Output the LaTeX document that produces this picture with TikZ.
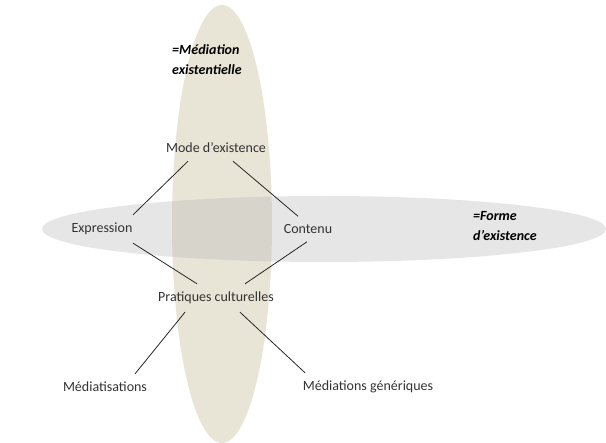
\documentclass[tikz,border=0pt]{standalone}
\usepackage{fontspec}
\setmainfont{Carlito}
\definecolor{beige}{RGB}{232,228,214}
\definecolor{halo}{RGB}{185,185,185}
\tikzset{
  label/.style={font=\fontsize{14}{17}\selectfont, text=black!80, inner xsep=2pt, inner ysep=8pt},
  note/.style={font=\fontsize{14}{20}\selectfont\bfseries\itshape, align=left, anchor=west, inner sep=0pt},
  link/.style={black!85, thick}
}
\begin{document}
\begin{tikzpicture}[x=1pt, y=-1pt]
\useasboundingbox (0,0) rectangle (606,443);

% the two domains
\fill[beige] (222,224) ellipse (50 and 219);
\fill[halo, opacity=0.36] (324,229) ellipse (282 and 33);

% texts
\node[note] (medexist) at (172,60) {=Médiation\\existentielle};
\node[note] (forme) at (473,226) {=Forme\\d'existence};

\node[label] (mode) at (216,148) {Mode d'existence};
\node[label] (expr) at (102,229) {Expression};
\node[label] (cont) at (308,229) {Contenu};
\node[label] (prat) at (216,298) {Pratiques culturelles};
\node[label] (medi) at (105,387) {Médiatisations};
\node[label] (gen) at (368,387) {Médiations génériques};

% links
\draw[link] ([xshift=-28pt]mode.south) -- ([xshift=31pt]expr.north);
\draw[link] ([xshift=17pt]mode.south) -- ([xshift=-10pt]cont.north);
\draw[link] ([xshift=31pt]expr.south) -- ([xshift=-19pt]prat.north);
\draw[link] ([xshift=-1pt]cont.south) -- ([xshift=29pt]prat.north);
\draw[link] ([xshift=-31pt]prat.south) -- ([xshift=30pt]medi.north);
\draw[link] ([xshift=24pt]prat.south) -- ([xshift=-63pt]gen.north);

\end{tikzpicture}
\end{document}
